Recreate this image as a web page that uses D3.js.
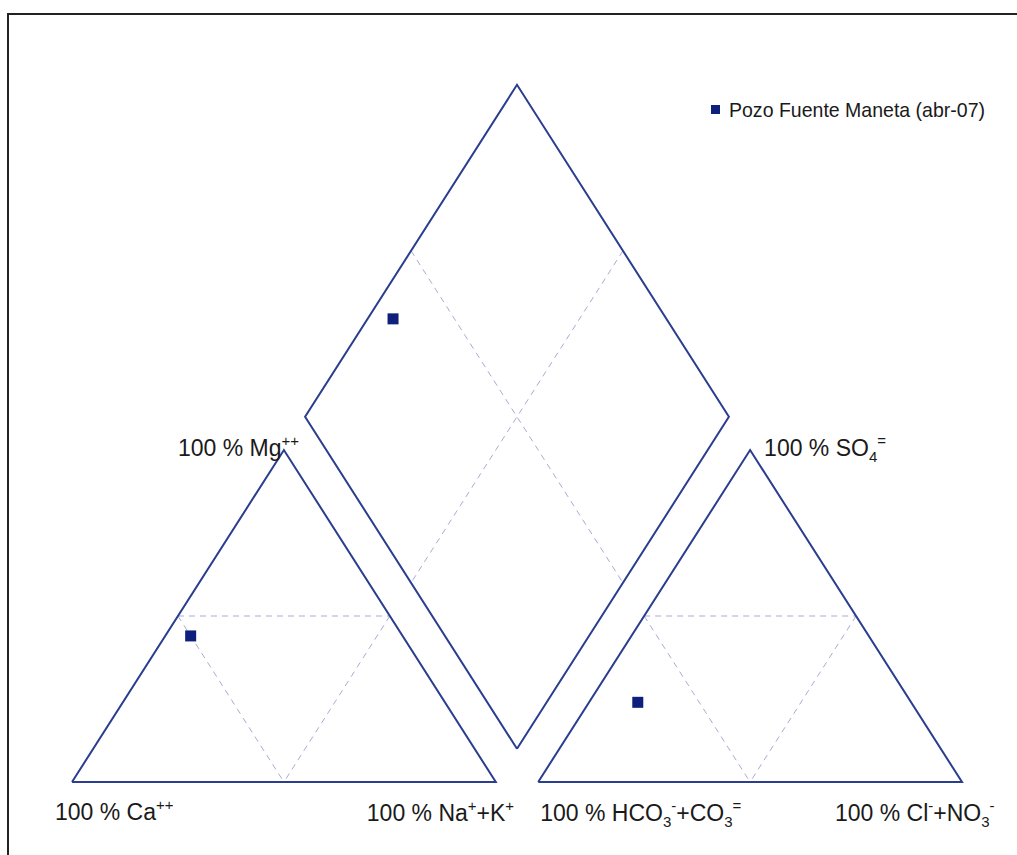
<!DOCTYPE html>
<html>
<head>
<meta charset="utf-8">
<script src="https://cdn.jsdelivr.net/npm/d3@7"></script>
<style>
  body { margin: 0; background: #fff; }
  svg { display: block; }
  text { font-family: "Liberation Sans", Arial, sans-serif; fill: #1a1a1a; }
</style>
</head>
<body>
<div id="chart"></div>
<script>
const width = 1017;
const height = 855;
const GAP = 0.1;
const H = Math.sqrt(3) / 2;

// sample composition, % of meq
const sampleName = "Pozo Fuente Maneta (abr-07)";
const cations = [50, 44, 6];     // Ca++, Mg++, Na+ + K+
const anions = [64.5, 24, 11.5]; // HCO3- + CO3=, SO4=, Cl- + NO3-

// corner labels: [text, kind] pieces, kind n / sup / sub
const cornerLabels = [
  { at: "ca", parts: [["100 % Ca", "n"], ["++", "sup"]] },
  { at: "nak", parts: [["100 % Na", "n"], ["+", "sup"], ["+K", "n"], ["+", "sup"]] },
  { at: "mg", parts: [["100 % Mg", "n"], ["++", "sup"]] },
  { at: "hco3", parts: [["100 % HCO", "n"], ["3", "sub"], ["-", "sup"], ["+CO", "n"], ["3", "sub"], ["=", "sup"]] },
  { at: "cl", parts: [["100 % Cl", "n"], ["-", "sup"], ["+NO", "n"], ["3", "sub"], ["-", "sup"]] },
  { at: "so4", parts: [["100 % SO", "n"], ["4", "sub"], ["=", "sup"]] }
];

const svg = d3.select("#chart")
  .append("svg")
  .attr("width", width)
  .attr("height", height);

const x = d3.scaleLinear().domain([0, 2 + GAP]).range([72, 962]);
const y = d3.scaleLinear().domain([0, H]).range([782, 450]);

// frame (runs off the right and bottom edge)
svg.append("rect")
  .attr("x", 8).attr("y", 14)
  .attr("width", 1100).attr("height", 1000)
  .attr("fill", "none")
  .attr("stroke", "#222")
  .attr("stroke-width", 2);

// ternary -> plane. right = fraction of right corner, top = fraction of top corner
function tern(right, top, offset) {
  return [offset + right + top / 2, top * H];
}

const left0 = 0;
const right0 = 1 + GAP;

const cp = tern(cations[2] / 100, cations[1] / 100, left0);
const ap = tern(anions[2] / 100, anions[1] / 100, right0);

// projection into the diamond
const t = ap[0] - cp[0] - 0.5 * (cp[1] - ap[1]) / H;
const dp = [cp[0] + 0.5 * t, cp[1] + H * t];

const line = d3.line().x((d) => x(d[0])).y((d) => y(d[1]));

function triangle(o) {
  return [[o, 0], [o + 1, 0], [o + 0.5, H], [o, 0]];
}
const bx = 1 + GAP / 2;
const diamond = [
  [bx, GAP * H],
  [bx + 0.5, (1 + GAP) * H],
  [bx, (2 + GAP) * H],
  [bx - 0.5, (1 + GAP) * H],
  [bx, GAP * H]
];

function mid(a, b) {
  return [(a[0] + b[0]) / 2, (a[1] + b[1]) / 2];
}

// dashed 50 % lines
const dashed = [];
[left0, right0].forEach((o) => {
  const a = [o + 0.25, H / 2];
  const b = [o + 0.75, H / 2];
  const c = [o + 0.5, 0];
  dashed.push([a, b], [a, c], [b, c]);
});
dashed.push(
  [mid(diamond[3], diamond[2]), mid(diamond[0], diamond[1])],
  [mid(diamond[2], diamond[1]), mid(diamond[3], diamond[0])]
);

svg.selectAll(".grid")
  .data(dashed)
  .enter()
  .append("path")
  .attr("class", "grid")
  .attr("d", line)
  .attr("fill", "none")
  .attr("stroke", "#a9abd4")
  .attr("stroke-width", 1)
  .attr("stroke-dasharray", "6,5");

svg.selectAll(".outline")
  .data([triangle(left0), triangle(right0), diamond])
  .enter()
  .append("path")
  .attr("class", "outline")
  .attr("d", line)
  .attr("fill", "none")
  .attr("stroke", "#2a3d8f")
  .attr("stroke-width", 2)
  .attr("stroke-linejoin", "miter");

const size = 11;
svg.selectAll(".pt")
  .data([cp, ap, dp])
  .enter()
  .append("rect")
  .attr("class", "pt")
  .attr("x", (d) => x(d[0]) - size / 2)
  .attr("y", (d) => y(d[1]) - size / 2)
  .attr("width", size)
  .attr("height", size)
  .attr("fill", "#0f1f7c");

// label anchors, relative to the corners
const anchors = {
  ca: [x(left0) - 17, y(0) + 38],
  nak: [x(left0 + 1) - 129, y(0) + 39],
  mg: [x(left0 + 0.5) - 106, y(H) + 6],
  hco3: [x(right0) + 2, y(0) + 39],
  cl: [x(right0 + 1) - 127, y(0) + 39],
  so4: [x(right0 + 0.5) + 14, y(H) + 6]
};

function writeLabel(g, parts) {
  let off = 0;
  parts.forEach(([txt, kind]) => {
    const target = kind === "sup" ? -10 : kind === "sub" ? 6 : 0;
    g.append("tspan")
      .attr("dy", target - off)
      .attr("font-size", kind === "n" ? 23 : 15)
      .text(txt);
    off = target;
  });
}

cornerLabels.forEach((d) => {
  const p = anchors[d.at];
  const g = svg.append("text")
    .attr("x", p[0])
    .attr("y", p[1])
    .attr("font-size", 23);
  writeLabel(g, d.parts);
});

// legend
svg.append("rect")
  .attr("x", 711).attr("y", 105)
  .attr("width", 9).attr("height", 9)
  .attr("fill", "#0f1f7c");
svg.append("text")
  .attr("transform", "translate(729,117) scale(0.93,1)")
  .attr("font-size", 21)
  .text(sampleName);
</script>
</body>
</html>
